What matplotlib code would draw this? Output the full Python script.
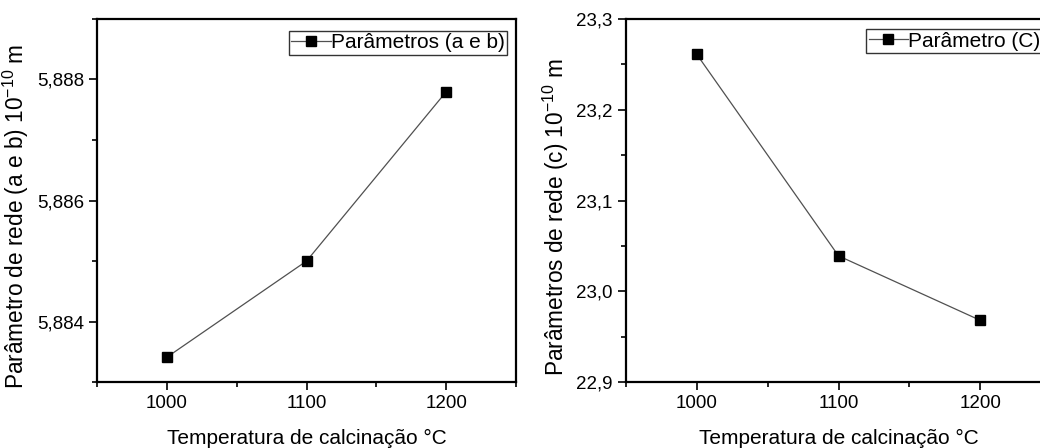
import matplotlib.pyplot as plt
from matplotlib.ticker import MultipleLocator, FuncFormatter

# lattice parameters vs calcination temperature
temperatura = [1000, 1100, 1200]
param_ab = [5.88341, 5.88500, 5.88780]
param_c = [23.261, 23.039, 22.968]

plt.rcParams["font.family"] = ["Liberation Sans", "DejaVu Sans"]

fig = plt.figure(figsize=(10.4, 4.48), dpi=100)
ax1 = fig.add_axes([0.0933, 0.1473, 0.403, 0.8103])
ax2 = fig.add_axes([0.6019, 0.1473, 0.4087, 0.8103])


def comma(decimals):
    return FuncFormatter(lambda v, p: f"{v:.{decimals}f}".replace(".", ","))


def style_axes(ax, ymajor, yminor, decimals):
    ax.set_xlim(950, 1250)
    ax.xaxis.set_major_locator(MultipleLocator(100))
    ax.xaxis.set_minor_locator(MultipleLocator(50))
    ax.yaxis.set_major_locator(MultipleLocator(ymajor))
    ax.yaxis.set_minor_locator(MultipleLocator(yminor))
    ax.yaxis.set_major_formatter(comma(decimals))
    ax.tick_params(which="major", direction="out", length=5.5, width=1.2,
                   labelsize=13.5, pad=4)
    ax.tick_params(which="minor", direction="out", length=3.5, width=1.2)
    for s in ax.spines.values():
        s.set_linewidth(1.6)
    ax.set_xlabel("Temperatura de calcinação °C", fontsize=15, labelpad=12)


def add_legend(ax, x, y):
    leg = ax.legend(loc="upper left", bbox_to_anchor=(x, y), borderaxespad=0,
                    fontsize=15, frameon=True, fancybox=False,
                    handlelength=1.9, handletextpad=0.0, borderpad=0.12)
    leg.get_frame().set_edgecolor("black")
    leg.get_frame().set_linewidth(1.0)
    return leg


ax1.plot(temperatura, param_ab, color="#505050", lw=0.9, marker="s",
         ms=7.5, mfc="black", mec="black", label="Parâmetros (a e b)")
ax1.set_ylim(5.883, 5.889)
style_axes(ax1, 0.002, 0.001, 3)
ax1.set_ylabel("Parâmetro de rede (a e b) 10$^{\\mathregular{-10}}$ m",
               fontsize=16.3, labelpad=4)
ax1.yaxis.label.set_y(0.455)
add_legend(ax1, 0.458, 0.967)

ax2.plot(temperatura, param_c, color="#505050", lw=0.9, marker="s",
         ms=7.5, mfc="black", mec="black", label="Parâmetro (C)")
ax2.set_ylim(22.9, 23.3)
style_axes(ax2, 0.1, 0.05, 1)
ax2.set_ylabel("Parâmetros de rede (c) 10$^{\\mathregular{-10}}$ m",
               fontsize=16.3, labelpad=4)
ax2.yaxis.label.set_y(0.455)
add_legend(ax2, 0.565, 0.972)

fig.savefig("out.png", dpi=100)
